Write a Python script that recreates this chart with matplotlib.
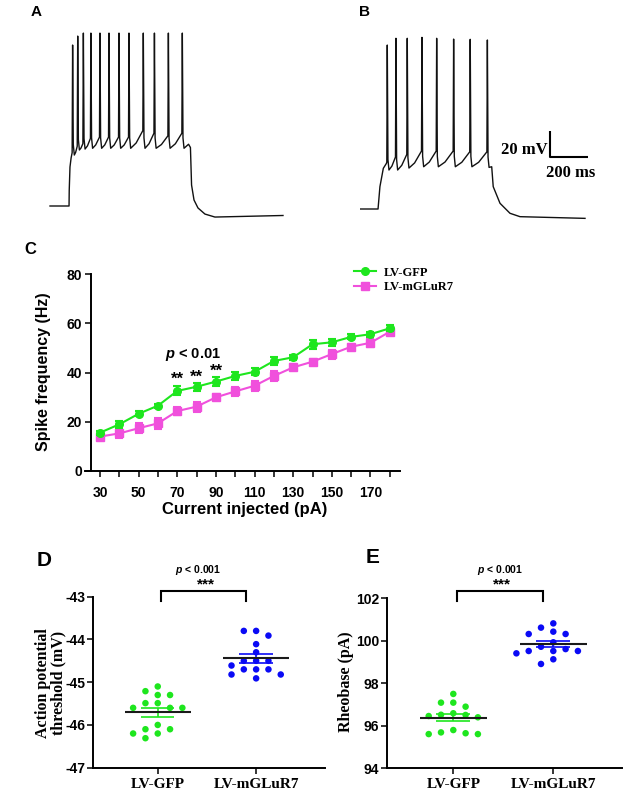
import numpy as np
import matplotlib
matplotlib.use('Agg')
import matplotlib.pyplot as plt
from matplotlib.lines import Line2D
from matplotlib.ticker import MultipleLocator

plt.rcParams['mathtext.fontset'] = 'custom'
plt.rcParams['mathtext.it'] = 'Liberation Sans:italic:bold'
plt.rcParams['mathtext.rm'] = 'Liberation Sans:bold'
plt.rcParams['axes.unicode_minus'] = False

SANS = 'Liberation Sans'
SERIF = 'Liberation Serif'
GREEN = '#1EE61E'
MAGENTA = '#F050DC'
BLUE = '#0A0AF5'

# ---- A / B: example traces (time in ms, voltage in mV) ----
a_rest_t = [0, 101]
a_rest_v = [-70, -70]
a_rise_t = [102, 106, 112]
a_rise_v = [-58, -40, -33]
a_spike_t = [120, 147, 177, 217, 265, 313, 366, 419, 495, 554, 628, 702]
a_spike_v = [53.8, 60.7, 63, 63, 63, 63, 63, 63, 63, 63, 63, 63]
a_trough_v = [-30.8, -26.9, -26.2, -25.6, -25.6, -25.6, -25.6, -25.6, -25.6, -25.6, -25.6, -25.6]
a_pre_v = [-29, -24, -22, -18, -17, -17, -17, -17, -12, -14, -16, -14]
a_decay_t = [735, 745, 751, 764, 785, 822, 875, 1236]
a_decay_v = [-22.5, -25, -53.9, -65.4, -71.5, -76.2, -78.5, -77.3]

b_rest_t = [0, 92]
b_rest_v = [-70, -70]
b_rise_t = [102, 120, 136]
b_rise_v = [-52.8, -38.7, -35]
b_spike_t = [141, 187, 247, 325, 403, 493, 581, 672]
b_spike_v = [56.1, 61.3, 61.3, 62.0, 61.3, 60.7, 60.5, 60.0]
b_trough_v = [-40, -40, -38.5, -37.5, -37.5, -37.5, -37.5, -38]
b_pre_v = [-34, -30, -28, -25.4, -25.4, -25.4, -26, -26]
b_decay_t = [695, 703, 739, 792, 845, 1190]
b_decay_v = [-37.5, -52.8, -65.6, -73.3, -75.9, -77.2]

# ---- C: spike frequency vs injected current ----
current = [30, 40, 50, 60, 70, 80, 90, 100, 110, 120, 130, 140, 150, 160, 170, 180]
gfp_hz = [15.5, 18.9, 23.2, 26.5, 32.5, 34.2, 36.3, 38.6, 40.3, 44.7, 46.2, 51.5, 52.3, 54.5, 55.6, 58.0]
gfp_sem = [0.8, 1.5, 1.0, 0.8, 1.8, 1.6, 1.8, 1.8, 1.5, 1.8, 1.0, 1.8, 1.5, 1.0, 1.0, 1.2]
mglur_hz = [13.9, 15.2, 17.3, 19.3, 24.3, 26.1, 29.9, 32.3, 34.6, 38.6, 42.1, 44.4, 47.5, 50.5, 52.1, 56.6]
mglur_sem = [1.2, 1.8, 2.0, 2.2, 1.8, 2.0, 1.2, 1.8, 2.0, 2.0, 1.2, 1.2, 1.8, 1.2, 1.8, 1.2]
sig_current = [70, 80, 90]
sig_height = [40.3, 41.0, 43.7]

# ---- D: action potential threshold (mV) ----
groups = ['LV-GFP', 'LV-mGLuR7']
thr_gfp = [-45.10, -45.30, -45.30, -45.21, -45.60, -45.60, -45.49, -45.49, -45.60,
           -46.00, -46.10, -46.20, -46.20, -46.10, -46.31]
thr_mglur = [-43.80, -43.80, -43.91, -44.11, -44.30, -44.50, -44.50, -44.50, -44.61,
             -44.70, -44.70, -44.70, -44.82, -44.82, -44.91]

# ---- E: rheobase (pA) ----
rheo_gfp = [97.50, 97.09, 97.09, 96.90, 96.59, 96.46, 96.40, 96.52, 96.51,
            95.65, 95.80, 95.61, 95.69, 95.61]
rheo_mglur = [100.82, 100.62, 100.43, 100.32, 100.32, 99.93, 99.72, 99.61, 99.52,
              99.52, 99.52, 99.41, 99.13, 98.91]

W, H = 638, 799
fig = plt.figure(figsize=(W / 100, H / 100), dpi=100)


def px_axes(x0, y0, x1, y1):
    return fig.add_axes([x0 / W, 1 - y1 / H, (x1 - x0) / W, (y1 - y0) / H])


def build_trace(rest_t, rest_v, rise_t, rise_v, spk_t, spk_v, trough_v, pre_v, decay_t, decay_v):
    t = list(rest_t) + list(rise_t)
    v = list(rest_v) + list(rise_v)
    for i, (ts, vp) in enumerate(zip(spk_t, spk_v)):
        t += [ts - 2.5, ts, ts + 3.5, ts + 9]
        v += [pre_v[i], vp, trough_v[i] + 8, trough_v[i]]
        if i + 1 < len(spk_t):
            nxt = spk_t[i + 1] - 2.5
            t.append(ts + 9 + (nxt - ts - 9) * 0.45)
            v.append(trough_v[i] + (pre_v[i + 1] - trough_v[i]) * 0.3)
    t += list(decay_t)
    v += list(decay_v)
    return t, v


MS_PX = 200 / 37.7   # ms per pixel
MV_PX = 20 / 26.0    # mV per pixel


def trace_axes(x0, x1, origin_x, origin_y):
    ax = px_axes(x0, 20, x1, 225)
    ax.set_xlim((x0 - origin_x) * MS_PX, (x1 - origin_x) * MS_PX)
    ax.set_ylim(-70 - (225 - origin_y) * MV_PX, -70 + (origin_y - 20) * MV_PX)
    ax.axis('off')
    return ax


axA = trace_axes(40, 300, 50, 206)
t, v = build_trace(a_rest_t, a_rest_v, a_rise_t, a_rise_v, a_spike_t, a_spike_v,
                   a_trough_v, a_pre_v, a_decay_t, a_decay_v)
axA.plot(t, v, color='#111111', lw=1.0)

axB = trace_axes(350, 638, 360.7, 209)
t, v = build_trace(b_rest_t, b_rest_v, b_rise_t, b_rise_v, b_spike_t, b_spike_v,
                   b_trough_v, b_pre_v, b_decay_t, b_decay_v)
axB.plot(t, v, color='#111111', lw=1.0)
# scale bar
axB.plot([1004, 1004, 1204], [-10, -30, -30], color='black', lw=1.5, solid_capstyle='butt')
axB.text(994, -24.6, '20 mV', ha='right', va='center', fontsize=12,
         fontweight='bold', family=SERIF)
axB.text(1116, -42.3, '200 ms', ha='center', va='center', fontsize=12,
         fontweight='bold', family=SERIF)

fig.text(36 / W, 1 - 12 / H, 'A', fontsize=11, fontweight='bold', family=SANS, ha='center', va='center')
fig.text(365 / W, 1 - 12 / H, 'B', fontsize=11, fontweight='bold', family=SANS, ha='center', va='center')

# ---- panel C ----
axC = px_axes(85, 274.3, 400, 470.7)
axC.errorbar(current, mglur_hz, yerr=mglur_sem, color=MAGENTA, marker='s', ms=6, lw=1.5,
             capsize=3, capthick=1.5, elinewidth=1.5, clip_on=False, zorder=3)
axC.errorbar(current, gfp_hz, yerr=gfp_sem, color=GREEN, marker='o', ms=5.5, lw=1.5,
             capsize=3, capthick=1.5, elinewidth=1.5, clip_on=False, zorder=4)
axC.set_xlim(22.2, 185.3)
axC.set_ylim(0, 80)
for s in ['top', 'right']:
    axC.spines[s].set_visible(False)
axC.spines['left'].set_position(('data', 25.2))
for s in ['left', 'bottom']:
    axC.spines[s].set_linewidth(1.4)
axC.set_yticks([0, 20, 40, 60, 80])
axC.set_xticks(range(30, 171, 20))
axC.xaxis.set_minor_locator(MultipleLocator(10))
axC.tick_params(which='both', direction='out', length=4.3, width=1.1, labelsize=10)
axC.tick_params(axis='x', pad=6.5)
axC.tick_params(axis='y', pad=2)
for lab in axC.get_xticklabels() + axC.get_yticklabels():
    lab.set_fontweight('bold')
    lab.set_family(SANS)
axC.set_xlabel('Current injected (pA)', fontsize=12, fontweight='bold', family=SANS)
axC.set_ylabel('Spike frequency (Hz)', fontsize=11.5, fontweight='bold', family=SANS)
axC.xaxis.set_label_coords(0.508, -0.157)
axC.yaxis.set_label_coords(-0.108, 0.504)
for xc, yc in zip(sig_current, sig_height):
    axC.text(xc, yc, '**', ha='center', va='top', fontsize=12, fontweight='bold', family=SANS)
axC.text(78.3, 47.5, r'$\it{p}$ < 0.01', ha='center', va='center', fontsize=10.5,
         fontweight='bold', family=SANS)
handles = [Line2D([], [], color=GREEN, marker='o', ms=5.5, lw=1.5),
           Line2D([], [], color=MAGENTA, marker='s', ms=6, lw=1.5)]
fig.legend(handles, ['LV-GFP', 'LV-mGLuR7'], loc='upper left',
           bbox_to_anchor=(348 / W, 1 - 260.5 / H), frameon=False, borderpad=0,
           handlelength=1.7, handletextpad=0.65, labelspacing=0.2,
           prop={'family': SERIF, 'weight': 'bold', 'size': 9})
fig.text(30.5 / W, 1 - 249 / H, 'C', fontsize=12, fontweight='bold', family=SANS, ha='center', va='center')


# ---- panels D / E ----
def swarm_x(vals, center, px_per_y, px_per_x, step_px=12.3, diam_px=7.0):
    vals = np.asarray(vals, dtype=float)
    order = np.argsort(-vals, kind='stable')
    placed = []
    xs = np.zeros(len(vals))
    for i in order:
        y = vals[i] * px_per_y
        for k in [0, -1, 1, -2, 2, -3, 3]:
            if all(abs(y - y2) >= diam_px for k2, y2 in placed if k2 == k):
                placed.append((k, y))
                xs[i] = center + k * step_px / px_per_x
                break
    return xs


def dot_panel(ax, data, colors, ylim, yticks, px_per_y, px_per_x, ylabel, label_xy,
              bracket, star_y, p_xy):
    for i, (vals, c) in enumerate(zip(data, colors)):
        pos = i + 1
        xs = swarm_x(vals, pos, px_per_y, px_per_x)
        ax.scatter(xs, vals, s=22, color=c, edgecolors='none', zorder=2, clip_on=False)
        m = np.mean(vals)
        sem = np.std(vals, ddof=1) / np.sqrt(len(vals))
        ax.hlines(m, pos - 0.335, pos + 0.335, color='#1a1a1a', lw=1.5, zorder=4)
        ax.hlines([m - sem, m + sem], pos - 0.17, pos + 0.17, color=c, lw=1.2, zorder=3)
        ax.vlines(pos, m - sem, m + sem, color=c, lw=1.2, zorder=3)
    ax.set_ylim(*ylim)
    ax.set_yticks(yticks)
    ax.set_xticks([1, 2])
    ax.set_xticklabels(groups, family=SERIF, fontweight='bold', fontsize=11)
    for s in ['top', 'right']:
        ax.spines[s].set_visible(False)
    for s in ['left', 'bottom']:
        ax.spines[s].set_linewidth(1.4)
    ax.tick_params(direction='out', length=4.3, width=1.1)
    ax.tick_params(axis='x', pad=3)
    ax.tick_params(axis='y', pad=1.2, labelsize=10)
    for lab in ax.get_yticklabels():
        lab.set_fontweight('bold')
        lab.set_family(SANS)
    ax.set_ylabel(ylabel, family=SERIF, fontweight='bold', fontsize=11.5, linespacing=0.9)
    ax.yaxis.set_label_coords(*label_xy)
    x0, x1, y_leg, y_top = bracket
    ax.plot([x0, x0, x1, x1], [y_leg, y_top, y_top, y_leg], color='black', lw=1.5,
            clip_on=False, solid_joinstyle='miter')
    ax.text((x0 + x1) / 2 + 0.02, star_y, '***', ha='center', va='top', fontsize=11,
            fontweight='bold', family=SANS)
    ax.text(p_xy[0], p_xy[1], r'$\it{p}$ < 0.001', ha='center', va='center', fontsize=7.5,
            fontweight='bold', family=SANS)


axD = px_axes(93.3, 596.7, 325, 767.7)
axD.set_xlim(0.345, 2.70)
dot_panel(axD, [thr_gfp, thr_mglur], [GREEN, BLUE], (-47, -43), [-47, -46, -45, -44, -43],
          42.75, 98.3, 'Action potential\nthreshold (mV)', (-0.118, 0.495),
          (1.035, 1.9, -43.1, -42.86), -42.54, (1.41, -42.38))

axE = px_axes(386.7, 598.3, 621.7, 768.3)
axE.set_xlim(0.334, 2.684)
dot_panel(axE, [rheo_gfp, rheo_mglur], [GREEN, BLUE], (94, 102), [94, 96, 98, 100, 102],
          21.25, 100, 'Rheobase (pA)', (-0.14, 0.509),
          (1.04, 1.9, 101.89, 102.36), 103.0, (1.467, 103.33))

fig.text(44 / W, 1 - 560.5 / H, 'D', fontsize=15, fontweight='bold', family=SANS, ha='center', va='center')
fig.text(372.5 / W, 1 - 557.5 / H, 'E', fontsize=15, fontweight='bold', family=SANS, ha='center', va='center')

fig.savefig('out.png', dpi=100)
